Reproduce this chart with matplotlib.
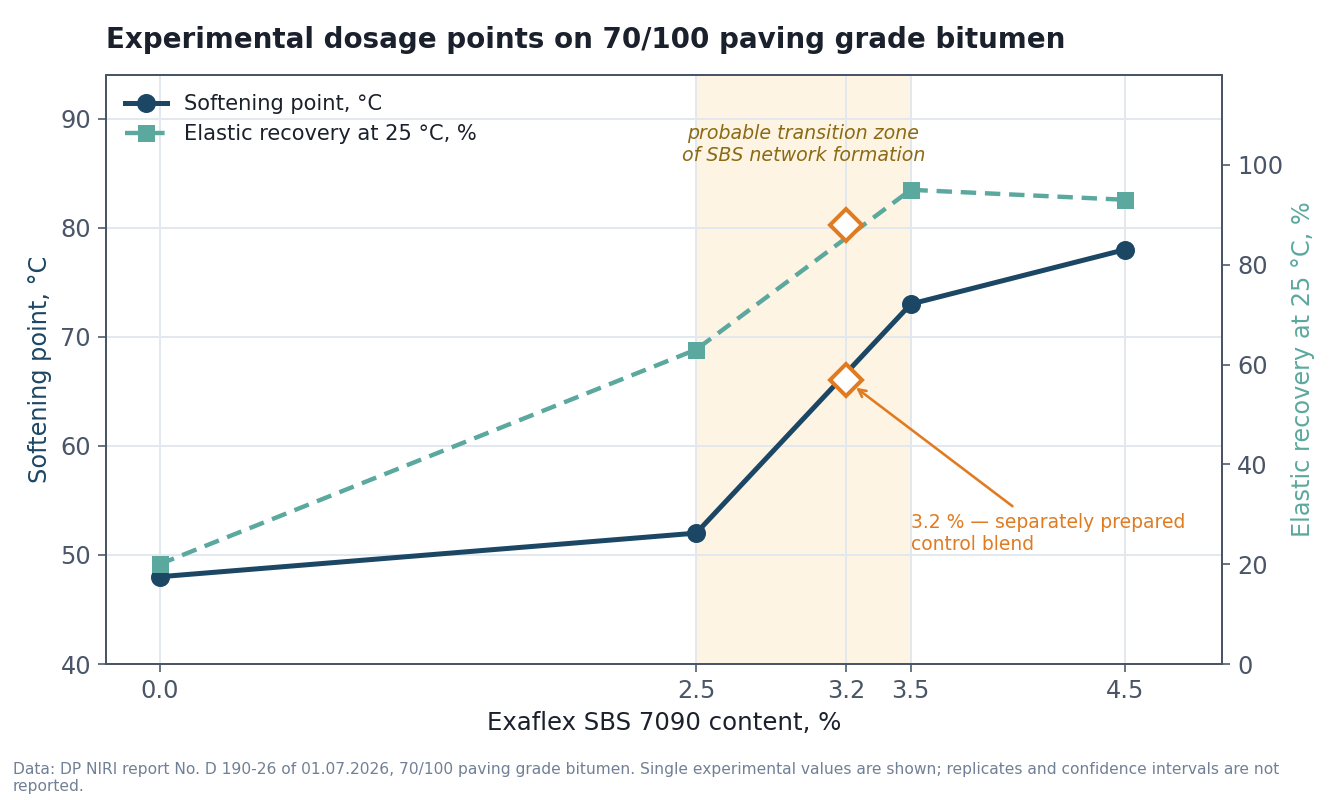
import matplotlib
matplotlib.use("Agg")
import matplotlib.pyplot as plt

# Data
sbs_content = [0.0, 2.5, 3.5, 4.5]
softening_point = [48, 52, 73, 78]
elastic_recovery = [20, 63, 95, 93]
control_content = 3.2
control_softening = 66
control_elastic = 88
x_ticks = [0.0, 2.5, 3.2, 3.5, 4.5]
zone = [2.5, 3.5]

NAVY = "#1B4765"
TEAL = "#5BA89E"
ORANGE = "#E07B22"
SLATE = "#4A5568"
GRID = "#E3E8EF"
DARK = "#1A202C"

plt.rcParams["font.family"] = ["DejaVu Sans"]
fig = plt.figure(figsize=(1344/144, 800/144), dpi=144)
ax = fig.add_axes([106/1344, 1 - 664/800, (1222-106)/1344, (664-75)/800])
ax2 = ax.twinx()

Y1 = (40, 94)
Y2 = (0, 118)


def to_right(v):
    """Convert a left-axis value to right-axis coordinates."""
    return (v - Y1[0]) * (Y2[1] - Y2[0]) / (Y1[1] - Y1[0]) + Y2[0]


ax.axvspan(zone[0], zone[1], color="#FDF4E3", zorder=0, lw=0)
ax.set_axisbelow(True)
ax.grid(True, color=GRID, lw=1.0)

l1, = ax.plot(sbs_content, softening_point, color=NAVY, lw=2.5, marker="o", ms=8.5, zorder=3,
              label="Softening point, °C")
l2, = ax2.plot(sbs_content, elastic_recovery, color=TEAL, lw=2.2, ls="--", marker="s", ms=7.5,
               dashes=(3.5, 2), zorder=3, label="Elastic recovery at 25 °C, %")
ax2.plot([control_content], [control_elastic], marker="D", ms=11, mfc="white", mec=ORANGE, mew=2,
         zorder=5, ls="none")
ax.plot([control_content], [control_softening], marker="D", ms=11, mfc="white", mec=ORANGE, mew=2,
        zorder=5, ls="none")

ax.set_xlim(-0.25, 4.95)
ax.set_ylim(*Y1)
ax2.set_ylim(*Y2)
ax.set_xticks(x_ticks)
ax.set_xticklabels([f"{v:.1f}" for v in x_ticks])
ax.set_yticks([40, 50, 60, 70, 80, 90])
ax2.set_yticks([0, 20, 40, 60, 80, 100])

for a in (ax, ax2):
    for s in a.spines.values():
        s.set_color(SLATE)
        s.set_linewidth(1.0)
    a.tick_params(colors=SLATE, labelsize=12, length=4)
ax2.grid(False)

ax.set_xlabel("Exaflex SBS 7090 content, %", fontsize=12.2, color=DARK, labelpad=4)
ax.set_ylabel("Softening point, °C", fontsize=12, color=NAVY)
ax2.set_ylabel("Elastic recovery at 25 °C, %", fontsize=12, color=TEAL)

ax2.text(3.0, to_right(87.6), "probable transition zone\nof SBS network formation",
         ha="center", va="center", style="italic", fontsize=9.5, color="#8B6A14", zorder=4)

ax2.annotate("3.2 % — separately prepared\ncontrol blend",
             xy=(control_content, to_right(control_softening)),
             xytext=(3.5, to_right(52.0)), ha="left", va="center", fontsize=9.4, color=ORANGE,
             arrowprops=dict(arrowstyle="->", color=ORANGE, lw=1.3, shrinkB=6), zorder=6)

ax2.legend(handles=[l1, l2], loc="upper left", frameon=False, fontsize=10.5,
           bbox_to_anchor=(0.0, 1.0), handlelength=2.0, labelcolor=DARK)

fig.text(106/1344, 1 - 40/800, "Experimental dosage points on 70/100 paving grade bitumen",
         fontsize=13.85, fontweight="bold", color=DARK, ha="left", va="center")
fig.text(13/1344, 1 - 778/800,
         "Data: DP NIRI report No. D 190-26 of 01.07.2026, 70/100 paving grade bitumen. Single experimental values are shown; replicates and confidence intervals are not\nreported.",
         fontsize=7.75, color="#718096", ha="left", va="center")
fig.savefig("out.png", dpi=144)
